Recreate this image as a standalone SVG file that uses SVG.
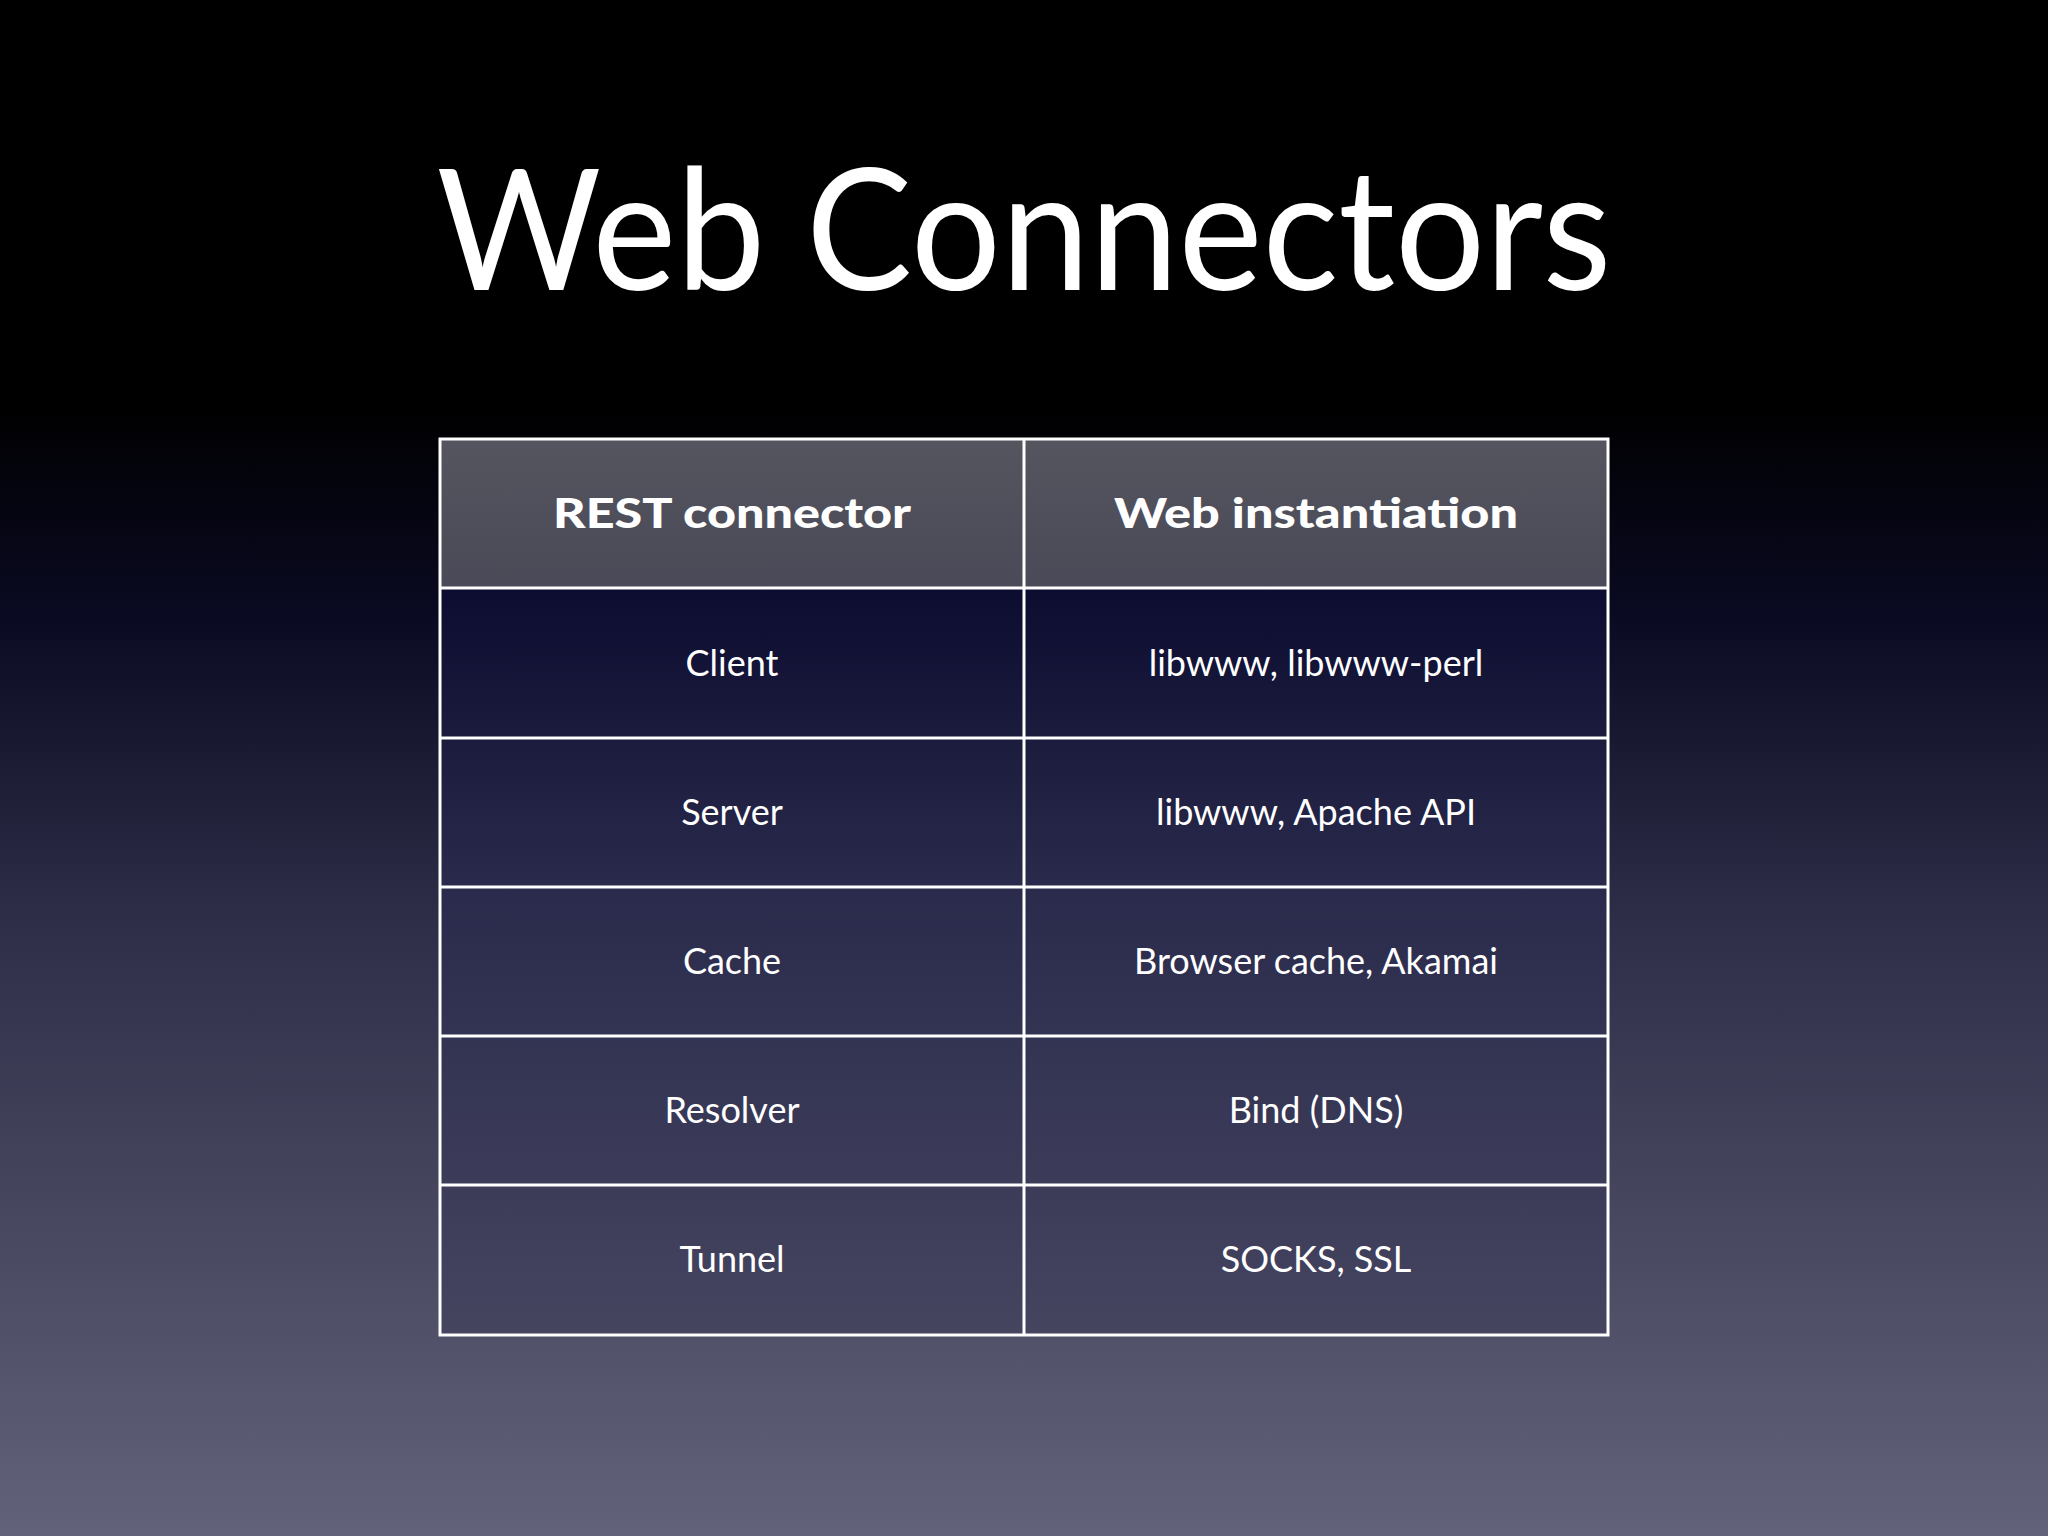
<svg xmlns="http://www.w3.org/2000/svg" width="2048" height="1536" viewBox="0 0 2048 1536">
<defs>
<linearGradient id="bg" x1="0" y1="0" x2="0" y2="1">
<stop offset="0" stop-color="#000"/><stop offset="0.26" stop-color="#000"/>
<stop offset="0.4" stop-color="#0a0a22"/><stop offset="0.6" stop-color="#2e2e48"/>
<stop offset="1" stop-color="#62627a"/></linearGradient>
<linearGradient id="hd" x1="0" y1="0" x2="0" y2="1">
<stop offset="0" stop-color="#55555f"/><stop offset="1" stop-color="#4a4a58"/></linearGradient>
<linearGradient id="bd" x1="0" y1="0" x2="0" y2="1">
<stop offset="0" stop-color="#0c0c30"/><stop offset="0.4" stop-color="#2a2a4c"/><stop offset="1" stop-color="#454560"/></linearGradient>
<style>
.t{fill:#fff;font-family:Lato,"Open Sans",sans-serif;text-anchor:middle}
.h{font-size:41px;font-weight:900}
.b{font-size:36px}
.g{stroke:#fff;stroke-width:3;fill:none}
</style>
</defs>
<rect width="2048" height="1536" fill="url(#bg)"/>
<text class="t" x="1024" y="290" font-size="168" textLength="1175" lengthAdjust="spacingAndGlyphs">Web Connectors</text>
<g id="table">
<rect x="440" y="439" width="1168" height="149" fill="url(#hd)"/>
<rect x="440" y="588" width="1168" height="747" fill="url(#bd)"/>
</g>
<g id="grid" class="g">
<rect x="440" y="439" width="1168" height="896"/>
<line x1="1024" y1="439" x2="1024" y2="1335"/>
<line x1="440" y1="588" x2="1608" y2="588"/>
<line x1="440" y1="738" x2="1608" y2="738"/>
<line x1="440" y1="887" x2="1608" y2="887"/>
<line x1="440" y1="1036" x2="1608" y2="1036"/>
<line x1="440" y1="1185" x2="1608" y2="1185"/>
</g>
<g id="header">
<text class="t h" x="732" y="528" textLength="358" lengthAdjust="spacingAndGlyphs">REST connector</text>
<text class="t h" x="1316" y="528" textLength="404" lengthAdjust="spacingAndGlyphs">Web instantiation</text>
</g>
<g id="rows">
<text class="t b" x="732" y="676">Client</text><text class="t b" x="1316" y="676">libwww, libwww-perl</text>
<text class="t b" x="732" y="825">Server</text><text class="t b" x="1316" y="825">libwww, Apache API</text>
<text class="t b" x="732" y="974">Cache</text><text class="t b" x="1316" y="974">Browser cache, Akamai</text>
<text class="t b" x="732" y="1123">Resolver</text><text class="t b" x="1316" y="1123">Bind (DNS)</text>
<text class="t b" x="732" y="1272">Tunnel</text><text class="t b" x="1316" y="1272">SOCKS, SSL</text>
</g>
</svg>
